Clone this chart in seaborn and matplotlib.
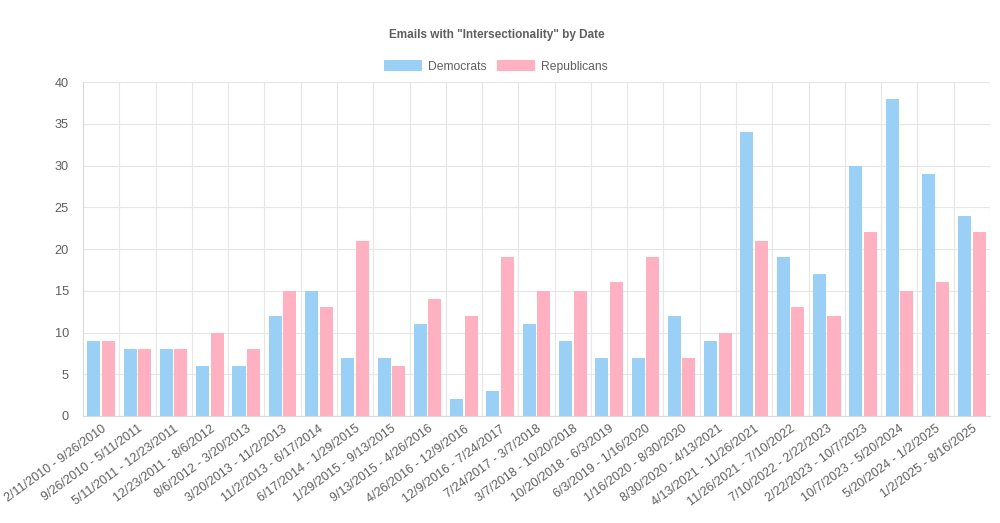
import matplotlib
matplotlib.use('Agg')
import matplotlib.pyplot as plt
import matplotlib.patches as mpatches
import numpy as np
import pandas as pd
import seaborn as sns

# data
periods = [
    '2/11/2010 - 9/26/2010', '9/26/2010 - 5/11/2011', '5/11/2011 - 12/23/2011',
    '12/23/2011 - 8/6/2012', '8/6/2012 - 3/20/2013', '3/20/2013 - 11/2/2013',
    '11/2/2013 - 6/17/2014', '6/17/2014 - 1/29/2015', '1/29/2015 - 9/13/2015',
    '9/13/2015 - 4/26/2016', '4/26/2016 - 12/9/2016', '12/9/2016 - 7/24/2017',
    '7/24/2017 - 3/7/2018', '3/7/2018 - 10/20/2018', '10/20/2018 - 6/3/2019',
    '6/3/2019 - 1/16/2020', '1/16/2020 - 8/30/2020', '8/30/2020 - 4/13/2021',
    '4/13/2021 - 11/26/2021', '11/26/2021 - 7/10/2022', '7/10/2022 - 2/22/2023',
    '2/22/2023 - 10/7/2023', '10/7/2023 - 5/20/2024', '5/20/2024 - 1/2/2025',
    '1/2/2025 - 8/16/2025',
]
democrats = [9, 8, 8, 6, 6, 12, 15, 7, 7, 11, 2, 3, 11, 9, 7, 7, 12, 9, 34, 19, 17, 30, 38, 29, 24]
republicans = [9, 8, 8, 10, 8, 15, 13, 21, 6, 14, 12, 19, 15, 15, 16, 19, 7, 10, 21, 13, 12, 22, 15, 16, 22]

df = pd.DataFrame({
    'period': periods * 2,
    'count': democrats + republicans,
    'party': ['Democrats'] * len(periods) + ['Republicans'] * len(periods),
})

sns.set_style('white')
plt.rcParams['font.family'] = ['Liberation Sans', 'DejaVu Sans']

blue = '#9ad0f5'
pink = '#ffb1c1'
text_col = '#5f5f5f'
grid_col = '#e6e6e6'

fig = plt.figure(figsize=(10, 5.23), dpi=100)
ax = fig.add_axes([0.083, 0.2046, 0.907, 0.6384])

sns.barplot(data=df, x='period', y='count', hue='party', order=periods,
            palette={'Democrats': blue, 'Republicans': pink},
            width=0.8, gap=0.1, saturation=1, linewidth=0, legend=False, ax=ax)

n = len(periods)
ax.set_xlim(-0.5, n - 0.5)
ax.set_ylim(0, 40)
ax.set_yticks(range(0, 41, 5))
ax.set_xlabel('')
ax.set_ylabel('')

# grid: horizontal at y ticks, vertical at category boundaries
ax.set_xticks(np.arange(-0.5, n, 1), minor=True)
ax.grid(axis='y', color=grid_col, linewidth=0.8)
ax.grid(axis='x', which='minor', color=grid_col, linewidth=0.8)
ax.set_axisbelow(True)

ax.tick_params(axis='x', which='major', length=0, labelsize=9, labelcolor=text_col, pad=5)
ax.tick_params(axis='x', which='minor', length=7, color=grid_col, width=0.8)
ax.tick_params(axis='y', length=7, color=grid_col, width=0.8, labelsize=9.2,
               labelcolor=text_col, pad=3)
plt.setp(ax.get_xticklabels(), rotation=36, ha='right', rotation_mode='anchor')

for side in ['top', 'right']:
    ax.spines[side].set_visible(False)
for side in ['left', 'bottom']:
    ax.spines[side].set_color('#d9d9d9')
    ax.spines[side].set_linewidth(0.8)

fig.text(0.497, 0.934, 'Emails with "Intersectionality" by Date', ha='center', va='center',
         fontsize=8.5, fontweight='bold', color=text_col)

handles = [mpatches.Patch(facecolor=blue, edgecolor='none', label='Democrats'),
           mpatches.Patch(facecolor=pink, edgecolor='none', label='Republicans')]
fig.legend(handles=handles, loc='center', bbox_to_anchor=(0.496, 0.873), ncol=2,
           frameon=False, fontsize=8.7, labelcolor=text_col, handlelength=3.2,
           handleheight=1.0, handletextpad=0.5, columnspacing=0.8)

fig.savefig('out.png', dpi=100)
